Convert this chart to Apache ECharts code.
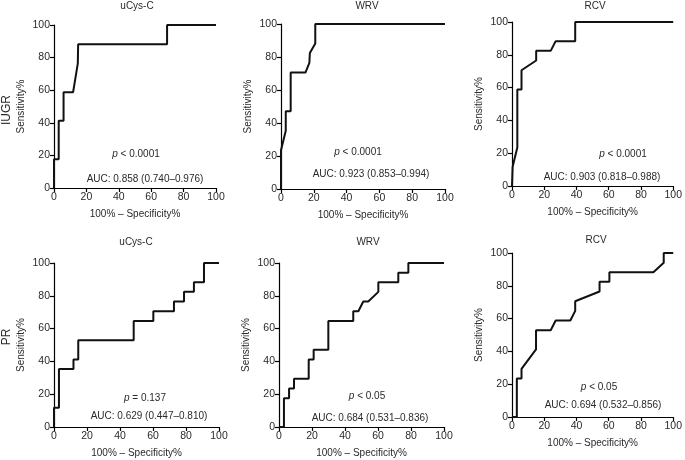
<!DOCTYPE html>
<html>
<head>
<meta charset="utf-8">
<script src="https://cdn.jsdelivr.net/npm/echarts@6/dist/echarts.min.js"></script>
<style>html,body{margin:0;padding:0;background:#fff;}#c{width:685px;height:460px;}</style>
</head>
<body>
<div id="c"></div>
<script>
// ---- Data (x = 100% - Specificity%, y = Sensitivity%) ----
var xTicks = [0, 20, 40, 60, 80, 100];
var yTicks = [0, 20, 40, 60, 80, 100];
var rowLabels = ['IUGR', 'PR'];
var panelTitles = ['uCys-C', 'WRV', 'RCV', 'uCys-C', 'WRV', 'RCV'];
var pTexts = ['< 0.0001', '< 0.0001', '< 0.0001', '= 0.137', '< 0.05', '< 0.05'];
var aucTexts = [
  'AUC: 0.858 (0.740\u20130.976)',
  'AUC: 0.923 (0.853\u20130.994)',
  'AUC: 0.903 (0.818\u20130.988)',
  'AUC: 0.629 (0.447\u20130.810)',
  'AUC: 0.684 (0.531\u20130.836)',
  'AUC: 0.694 (0.532\u20130.856)'
];
var rocIUGR_uCysC = [[0,0],[0,17.6],[2.9,17.6],[2.9,41.2],[5.9,41.2],[5.9,58.8],[11.8,58.8],[14.7,76.5],[14.9,88.2],[69.8,88.2],[69.8,100],[100,100]];
var rocIUGR_WRV = [[0,0],[0,23.5],[2.9,35.3],[2.9,47.1],[5.9,47.1],[5.9,70.6],[14.9,70.6],[17.3,76.5],[17.6,82.4],[20.9,88.2],[20.9,100],[100,100]];
var rocIUGR_RCV = [[0,0],[0.4,11.8],[3.3,23.5],[3.3,58.8],[5.9,58.8],[5.9,70.6],[15.0,76.5],[15.0,82.4],[24.0,82.4],[27.0,88.2],[39.2,88.2],[39.2,100],[100,100]];
var rocPR_uCysC = [[0,0],[0,11.8],[3.0,11.8],[3.0,35.3],[11.8,35.3],[11.8,41.2],[14.7,41.2],[14.7,52.9],[48.3,52.9],[48.3,64.7],[60.2,64.7],[60.2,70.6],[72.7,70.6],[72.7,76.5],[78.8,76.5],[78.8,82.4],[84.8,82.4],[84.8,88.2],[90.9,88.2],[90.9,100],[100,100]];
var rocPR_WRV = [[0,0],[3.0,0],[3.0,17.6],[6.1,17.6],[6.1,23.5],[9.1,23.5],[9.1,29.4],[18.0,29.4],[18.0,41.2],[21.0,41.2],[21.0,47.1],[29.9,47.1],[29.9,64.7],[45.0,64.7],[45.0,70.6],[48.1,70.6],[51.1,76.5],[54.1,76.5],[60.2,82.4],[60.2,88.2],[72.3,88.2],[72.3,94.1],[78.4,94.1],[78.4,100],[100,100]];
var rocPR_RCV = [[0,0],[3.0,0],[3.0,23.5],[5.9,23.5],[5.9,29.4],[14.9,41.2],[14.9,52.9],[24.0,52.9],[27.1,58.8],[36.2,58.8],[39.2,64.7],[39.2,70.6],[54.3,76.5],[54.3,82.4],[60.4,82.4],[60.4,88.2],[87.7,88.2],[94.1,94.1],[94.1,100],[100,100]];
var rocSeries = [rocIUGR_uCysC, rocIUGR_WRV, rocIUGR_RCV, rocPR_uCysC, rocPR_WRV, rocPR_RCV];

// ---- Layout ----
var FONT = '"Liberation Sans", Arial, Helvetica, sans-serif';
var TXT = '#2a2a2a';
var grids = [
  {left: 54, top: 25, width: 162, height: 163},
  {left: 281, top: 24, width: 164, height: 165},
  {left: 512, top: 22, width: 165, height: 164},
  {left: 54, top: 263, width: 165, height: 164},
  {left: 279, top: 263, width: 165, height: 164},
  {left: 512, top: 253, width: 165, height: 164}
];
var titlePos = [[137,6],[367,6],[595,6],[136,242.5],[368,242],[596,240]];
var pPos = [[136,154],[358,152],[623,154],[145,398],[367,396],[599,387]];
var aucPos = [[145,179],[371,174],[602,177],[149,416],[370,418],[603,405]];
var rowPos = [[7,110],[7,337]];

var xAxes = [], yAxes = [], series = [], graphics = [];
for (var i = 0; i < 6; i++) {
  var axisCommon = {
    min: 0, max: 100, interval: 20,
    axisLine: {show: true, lineStyle: {color: '#000', width: 1.2}},
    axisTick: {show: true, length: 4, lineStyle: {color: '#000', width: 1.2}},
    axisLabel: {fontFamily: FONT, fontSize: 10.5, color: TXT, margin: 4},
    splitLine: {show: false},
    nameTextStyle: {fontFamily: FONT, fontSize: 10, color: TXT}
  };
  xAxes.push(Object.assign({}, axisCommon, {
    type: 'value', gridIndex: i, name: '100% \u2013 Specificity%',
    nameLocation: 'middle', nameGap: 21
  }));
  yAxes.push(Object.assign({}, axisCommon, {
    type: 'value', gridIndex: i, name: 'Sensitivity%',
    nameLocation: 'middle', nameGap: 28
  }));
  series.push({
    type: 'line', xAxisIndex: i, yAxisIndex: i, data: rocSeries[i],
    symbol: 'none', clip: true, silent: true,
    lineStyle: {color: '#111', width: 2}
  });
  graphics.push({
    type: 'text', x: titlePos[i][0], y: titlePos[i][1],
    style: {text: panelTitles[i], font: '10px ' + FONT, fill: TXT, align: 'center', verticalAlign: 'middle'}
  });
  graphics.push({
    type: 'text', x: pPos[i][0], y: pPos[i][1],
    style: {
      text: '{i|p} ' + pTexts[i], align: 'center', verticalAlign: 'middle',
      fill: TXT, font: '10px ' + FONT,
      rich: {i: {fontStyle: 'italic', fontFamily: FONT, fontSize: 10, fill: TXT}}
    }
  });
  graphics.push({
    type: 'text', x: aucPos[i][0], y: aucPos[i][1],
    style: {text: aucTexts[i], font: '10px ' + FONT, fill: TXT, align: 'center', verticalAlign: 'middle'}
  });
}
for (var r = 0; r < 2; r++) {
  graphics.push({
    type: 'text', x: rowPos[r][0], y: rowPos[r][1], rotation: Math.PI / 2,
    style: {text: rowLabels[r], font: '12px ' + FONT, fill: TXT, align: 'center', verticalAlign: 'middle'}
  });
}

var chart = echarts.init(document.getElementById('c'), null, {renderer: 'canvas'});
chart.setOption({
  animation: false,
  backgroundColor: '#fff',
  grid: grids,
  xAxis: xAxes,
  yAxis: yAxes,
  series: series,
  graphic: graphics
});
</script>
</body>
</html>
